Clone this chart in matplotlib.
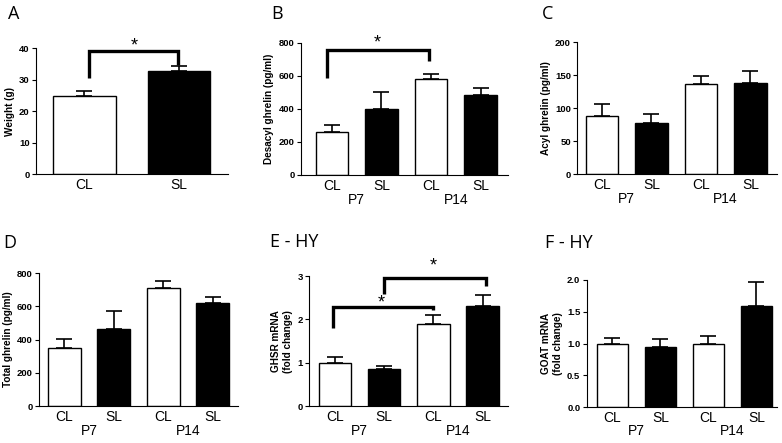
import matplotlib
matplotlib.use('Agg')
import matplotlib.pyplot as plt
import numpy as np

# data
groups = ['CL', 'SL', 'CL', 'SL']
ages = ['P7', 'P14']

weightMeans = [24.8, 32.8]
weightErr = [1.5, 1.4]

desacylMeans = [263, 401, 579, 482]
desacylErr = [41, 101, 34, 45]

acylMeans = [87.6, 78, 136, 138]
acylErr = [18.2, 12.6, 12, 18]

totalMeans = [351, 465, 713, 619]
totalErr = [50, 109, 41, 38]

ghsrMeans = [1.0, 0.85, 1.89, 2.30]
ghsrErr = [0.13, 0.08, 0.21, 0.26]

goatMeans = [1.0, 0.947, 0.989, 1.589]
goatErr = [0.095, 0.132, 0.127, 0.379]

# graph settings
barWidth = 0.66
tickFont = 6.8
labelFont = 7.2
catFont = 10
panelFont = 13
fillColors = ['white', 'black', 'white', 'black']

plt.rcParams['font.family'] = ['Liberation Sans', 'DejaVu Sans']

fig = plt.figure(figsize=(7.82, 4.43), dpi=100)


def makeAxes(rect):
    ax = fig.add_axes(rect)
    ax.spines['top'].set_visible(False)
    ax.spines['right'].set_visible(False)
    ax.spines['left'].set_linewidth(0.8)
    ax.spines['bottom'].set_linewidth(0.8)
    ax.tick_params(axis='y', direction='out', length=3, width=0.8,
                   labelsize=tickFont, pad=1.5)
    ax.tick_params(axis='x', length=0, labelsize=catFont, pad=3)
    return ax


def drawBars(ax, means, errs, ylabel, ylim, ticks, fmt=None, ages_on=True):
    x = np.arange(len(means))
    ax.bar(x, means, width=barWidth, color=fillColors[:len(means)],
           edgecolor='black', linewidth=1.0, zorder=2)
    ax.errorbar(x, means, yerr=[np.zeros(len(errs)), errs], fmt='none',
                ecolor='black', elinewidth=1.2, capsize=5.5, capthick=1.2,
                zorder=1)
    ax.set_xlim(-0.52, len(means) - 0.48)
    ax.set_ylim(*ylim)
    ax.set_yticks(ticks)
    if fmt:
        ax.set_yticklabels([fmt.format(t) for t in ticks])
    for lbl in ax.get_yticklabels():
        lbl.set_fontweight('bold')
        lbl.set_fontsize(tickFont)
    ax.set_xticks(x)
    ax.set_xticklabels(groups[:len(means)])
    ax.set_ylabel(ylabel, fontsize=labelFont, fontweight='bold', labelpad=3)
    if ages_on:
        ax.text(0.5, -0.135, ages[0], transform=ax.get_xaxis_transform(),
                ha='center', va='top', fontsize=catFont)
        ax.text(2.5, -0.135, ages[1], transform=ax.get_xaxis_transform(),
                ha='center', va='top', fontsize=catFont)


def bracket(ax, x0, x1, yl, yt, yr, starX, starY):
    ax.plot([x0, x0, x1, x1], [yl, yt, yt, yr], color='black', lw=2.4,
            solid_joinstyle='miter', solid_capstyle='butt', clip_on=False)
    ax.text(starX, starY, '*', ha='center', va='center', fontsize=13,
            clip_on=False)


# A
axA = makeAxes([0.046, 0.607, 0.2455, 0.2844])
drawBars(axA, weightMeans, weightErr, 'Weight (g)', (0, 40),
         [0, 10, 20, 30, 40], ages_on=False)
axA.set_xlim(-0.513, 1.52)
bracket(axA, 0.05, 0.99, 30.5, 39.2, 34.5, 0.53, 40.6)

# B
axB = makeAxes([0.3845, 0.605, 0.265, 0.298])
drawBars(axB, desacylMeans, desacylErr, 'Desacyl ghrelin (pg/ml)', (0, 800),
         [0, 200, 400, 600, 800])
axB.set_xlim(-0.63, 3.55)
bracket(axB, -0.1, 1.95, 587, 755, 689, 0.92, 800)

# C
axC = makeAxes([0.738, 0.607, 0.2558, 0.298])
drawBars(axC, acylMeans, acylErr, 'Acyl ghrelin (pg/ml)', (0, 200),
         [0, 50, 100, 150, 200])
axC.set_xlim(-0.5, 3.54)

# D
axD = makeAxes([0.0499, 0.0835, 0.2545, 0.300])
drawBars(axD, totalMeans, totalErr, 'Total ghrelin (pg/ml)', (0, 800),
         [0, 200, 400, 600, 800])
axD.set_xlim(-0.51, 3.51)

# E
axE = makeAxes([0.395, 0.0835, 0.255, 0.293])
drawBars(axE, ghsrMeans, ghsrErr, 'GHSR mRNA\n(fold change)', (0, 3),
         [0, 1, 2, 3])
axE.set_xlim(-0.53, 3.52)
bracket(axE, -0.05, 2.0, 1.80, 2.29, 2.21, 0.93, 2.38)
bracket(axE, 0.99, 3.06, 2.58, 2.97, 2.78, 2.0, 3.23)

# F
axF = makeAxes([0.750, 0.081, 0.243, 0.287])
drawBars(axF, goatMeans, goatErr, 'GOAT mRNA\n(fold change)', (0, 2.0),
         [0, 0.5, 1.0, 1.5, 2.0], fmt='{:.1f}')
axF.set_xlim(-0.54, 3.42)

# panel letters
panelPos = {'A': (8, 5), 'B': (271, 5), 'C': (542, 5),
            'D': (3, 234), 'E - HY': (270, 233), 'F - HY': (545, 234)}
for name, (px, py) in panelPos.items():
    fig.text(px / 782, 1 - py / 443, name, ha='left', va='top',
             fontsize=panelFont, family='Open Sans')

fig.savefig('out.png', dpi=100)
